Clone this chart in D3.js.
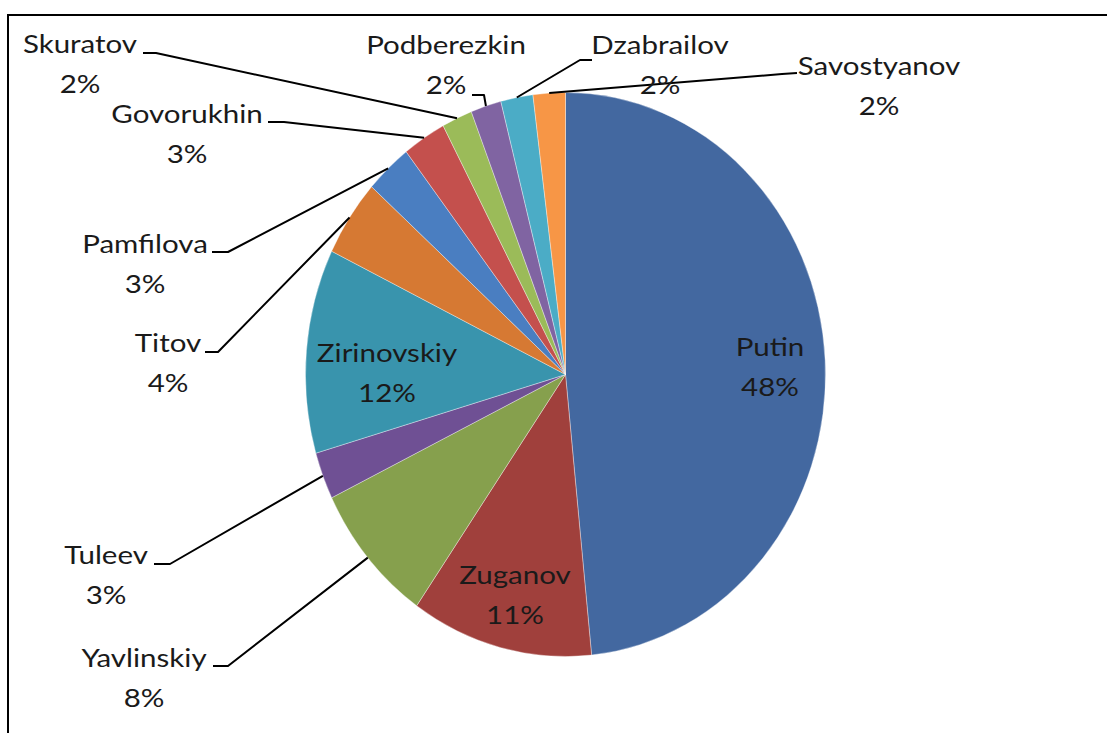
<!DOCTYPE html>
<html>
<head>
<meta charset="utf-8">
<script src="https://cdn.jsdelivr.net/npm/d3@7"></script>
<style>
  html, body { margin: 0; padding: 0; background: #fff; }
  svg { display: block; }
  text { font-family: Lato, "Open Sans", sans-serif; fill: #1a1a1a; }
</style>
</head>
<body>
<svg id="chart" width="1107" height="733"></svg>
<script>
// Candidates, clockwise from 12 o'clock
const candidates = ["Putin", "Zuganov", "Yavlinskiy", "Tuleev", "Zirinovskiy", "Titov",
                    "Pamfilova", "Govorukhin", "Skuratov", "Podberezkin", "Dzabrailov", "Savostyanov"];
// Vote share, percent
const shares = [48.4, 11.3, 8.1, 2.7, 11.7, 4.4, 2.9, 2.7, 1.9, 1.9, 2.0, 2.0];
const sliceColors = ["#4368a0", "#a0403c", "#86a04d", "#6f5094", "#3994ad", "#d67933",
                     "#4a7ec1", "#c4504d", "#9bbb59", "#8064a2", "#4bacc6", "#f79646"];

// Label placement: centre of the name line; "inside" labels sit on the slice
const labelAnchor = [[770, 347], [515, 575], [144, 658], [106, 555], [387, 353], [168, 343],
                     [145, 244], [187, 114], [80, 44], [446, 45], [660, 45], [879, 66]];
// Leader line: label-side end and elbow (null = label inside slice)
const leaderElbow = [null, null,
  [[213, 666], [228, 666]], [[154, 564], [170, 564]], null, [[205, 352], [218, 352]],
  [[212, 252], [228, 252]], [[268, 122], [284, 122]], [[143, 53], [156, 53]],
  [[472, 95], [484, 95]], [[592, 60], [580, 60]], [[797, 73], [782, 74]]];

const W = 1107, H = 733;
const cx = 565.5, cy = 374.5, RX = 260, RY = 282;
const lineGap = 40;
const textStretch = 1.18;

const svg = d3.select("#chart");

// chart frame
svg.append("rect")
  .attr("x", 8).attr("y", 15)
  .attr("width", W + 20).attr("height", H + 20)
  .attr("fill", "none").attr("stroke", "#000").attr("stroke-width", 2);

const data = candidates.map((name, i) => ({ name, value: shares[i], color: sliceColors[i], i }));
const total = d3.sum(shares);
const fmt = d3.format(".0%");

const pie = d3.pie().value(d => d.value).sort(null).startAngle(0).endAngle(2 * Math.PI);
const arcs = pie(data);
const arc = d3.arc().innerRadius(0).outerRadius(RY);

const g = svg.append("g")
  .attr("transform", `translate(${cx},${cy}) scale(${RX / RY},1)`);

g.selectAll("path.slice")
  .data(arcs)
  .join("path")
  .attr("class", "slice")
  .attr("d", arc)
  .attr("fill", d => d.data.color)
  .attr("stroke", "rgba(255,255,255,0.45)")
  .attr("stroke-width", 0.8)
  .attr("vector-effect", "non-scaling-stroke");

// leader lines from the slice edge to the label
const edgePoint = a => {
  const m = (a.startAngle + a.endAngle) / 2;
  return [cx + RX * Math.sin(m), cy - RY * Math.cos(m)];
};
svg.append("g").selectAll("polyline")
  .data(arcs.filter(a => leaderElbow[a.data.i]))
  .join("polyline")
  .attr("points", a => {
    const [p0, p1] = leaderElbow[a.data.i];
    return [p0, p1, edgePoint(a)].map(p => p.join(",")).join(" ");
  })
  .attr("fill", "none")
  .attr("stroke", "#000")
  .attr("stroke-width", 2)
  .attr("stroke-linejoin", "round");

// labels: name and percentage
const labels = svg.append("g").selectAll("g")
  .data(arcs)
  .join("g")
  .attr("transform", a =>
    `translate(${labelAnchor[a.data.i][0]},${labelAnchor[a.data.i][1]}) scale(${textStretch},1)`);

labels.append("text")
  .attr("text-anchor", "middle")
  .attr("dy", "0.36em")
  .attr("font-size", 25)
  .text(a => a.data.name);

labels.append("text")
  .attr("text-anchor", "middle")
  .attr("y", lineGap)
  .attr("dy", "0.36em")
  .attr("font-size", 25)
  .text(a => fmt(a.data.value / total));
</script>
</body>
</html>
